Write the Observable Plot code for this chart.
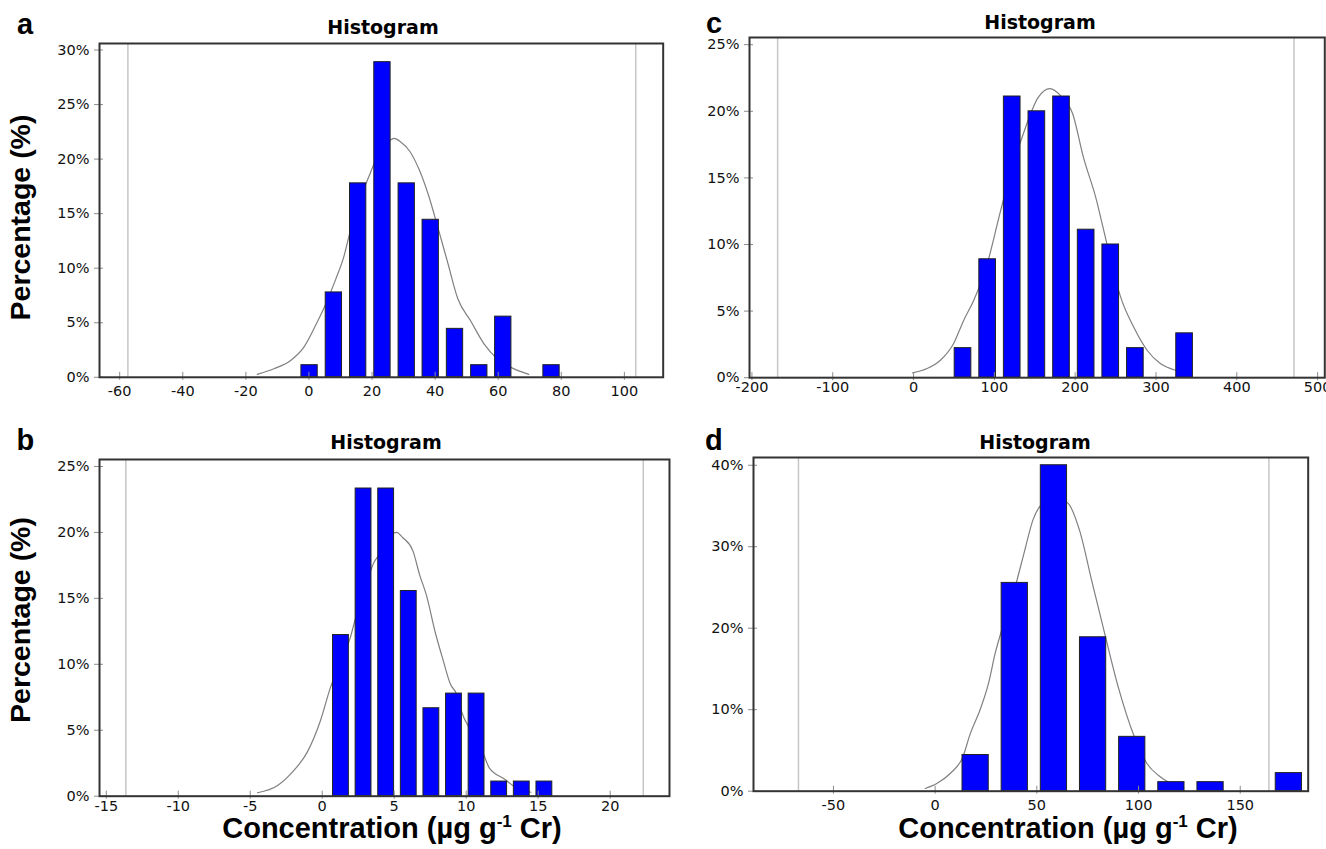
<!DOCTYPE html>
<html>
<head>
<meta charset="utf-8">
<script src="https://cdn.jsdelivr.net/npm/d3@7"></script>
<script src="https://cdn.jsdelivr.net/npm/@observablehq/plot@0.6"></script>
<style>
  html, body { margin: 0; padding: 0; background: #fff; }
  #page { position: relative; width: 1326px; height: 849px; overflow: hidden; background: #fff; }
  .panel { position: absolute; }
  #overlay { position: absolute; left: 0; top: 0; pointer-events: none; }
</style>
</head>
<body>
<div id="page"></div>
<script>
// ---------- data ----------
// Panel a
const aCenters = [0.2, 7.9, 15.6, 23.3, 31.0, 38.6, 46.3, 54.0, 61.6, 76.9];
const aPercent = [1.11, 7.78, 17.78, 28.89, 17.78, 14.44, 4.44, 1.11, 5.56, 1.11];
const aCurve = [[-16.4,0.26],[-11.1,0.78],[-5.8,1.54],[-1.6,2.76],[2.6,5.05],[5.3,6.7],[8.5,9.0],[11,11.0],[13.2,13.5],[16,16.2],[19,18.4],[21,19.8],[24,21.2],[27,21.9],[29,21.6],[32,20.7],[35,19.0],[38,16.6],[41,13.6],[44,10.5],[47.2,7.2],[51.2,5.2],[55.5,3.07],[59.7,1.7],[63.9,0.93],[69.7,0.26]];
const aRefLines = [-57.4, 103.6];
const aXTicks = [-60, -40, -20, 0, 20, 40, 60, 80, 100];
const aYTicks = [0, 5, 10, 15, 20, 25, 30];

// Panel b
const bCenters = [1.30, 2.87, 4.44, 6.01, 7.58, 9.15, 10.72, 12.29, 13.86, 15.43];
const bPercent = [12.22, 23.33, 23.33, 15.56, 6.67, 7.78, 7.78, 1.11, 1.11, 1.11];
const bCurve = [[-4.5,0.26],[-3.1,0.81],[-1.97,1.95],[-1.04,3.34],[-0.12,5.74],[0.58,8.27],[1.3,10.2],[1.94,12.0],[2.33,13.55],[3.0,15.8],[3.58,17.7],[3.88,18.2],[4.5,19.5],[5.15,20.0],[5.6,19.6],[6.3,18.6],[6.76,16.8],[7.22,15.3],[7.88,12.3],[8.4,10.3],[8.9,8.5],[9.35,7.7],[9.65,6.5],[10.4,4.8],[11.2,3.2],[11.6,2.15],[12.7,1.27],[13.3,0.76],[14.5,0.3]];
const bRefLines = [-13.64, 22.3];
const bXTicks = [-15, -10, -5, 0, 5, 10, 15, 20];
const bYTicks = [0, 5, 10, 15, 20, 25];

// Panel c
const cCenters = [61.2, 91.7, 122.1, 152.6, 183.1, 213.6, 244.0, 274.5, 335.4];
const cPercent = [2.22, 8.89, 21.11, 20.0, 21.11, 11.11, 10.0, 2.22, 3.33];
const cCurve = [[-1.1,0.36],[16.7,0.69],[33.2,1.31],[49.6,2.57],[62,4.3],[74.4,5.8],[90,8.3],[108,12.6],[122,15.8],[133.5,17.9],[154.5,21.06],[168.7,21.7],[183,21.1],[197,19.8],[210,16.6],[226.5,13.3],[234.4,11.3],[245,8.6],[256,6.1],[272.4,3.8],[289,2.06],[305.4,1.06],[324,0.56]];
const cRefLines = [-168.2, 470.8];
const cXTicks = [-200, -100, 0, 100, 200, 300, 400, 500];
const cYTicks = [0, 5, 10, 15, 20, 25];

// Panel d
const dCenters = [19.9, 39.15, 58.4, 77.65, 96.9, 116.15, 135.4, 173.9];
const dPercent = [4.44, 25.56, 40.0, 18.89, 6.67, 1.11, 1.11, 2.22];
const dCurve = [[-4.9,0.33],[0.8,0.94],[7.4,2.17],[13.6,4.2],[17.2,7.0],[22.1,10.0],[26.2,13.2],[29.5,16.9],[34,20.8],[39.8,25.5],[44,29.5],[48.1,33.3],[53,35.3],[59,35.8],[65,35.4],[71,32],[77,25.8],[83.4,19.3],[90,12.8],[97.9,6.7],[104.1,3.4],[110,1.9],[114.5,1.15],[121,0.7]];
const dRefLines = [-67.2, 164.1];
const dXTicks = [-50, 0, 50, 100, 150];
const dYTicks = [0, 10, 20, 30, 40];

// ---------- layout ----------
const panels = [
  {centers: aCenters, percent: aPercent, curve: aCurve, refLines: aRefLines, xTicks: aXTicks, yTicks: aYTicks,
   L: 99, R: 662.7, T: 43, B: 376.8, xDomain: [-66.4, 112.3], yDomain: [0, 30.6], barWidth: 5.17, xPad: 8},
  {centers: bCenters, percent: bPercent, curve: bCurve, refLines: bRefLines, xTicks: bXTicks, yTicks: bYTicks,
   L: 99, R: 669, T: 459, B: 795.7, xDomain: [-15.47, 24.12], yDomain: [0, 25.53], barWidth: 1.1, xPad: 5},
  {centers: cCenters, percent: cPercent, curve: cCurve, refLines: cRefLines, xTicks: cXTicks, yTicks: cYTicks,
   L: 749.2, R: 1324.5, T: 37.3, B: 377.5, xDomain: [-203, 508.9], yDomain: [0, 25.54], barWidth: 20.6, xPad: 4},
  {centers: dCenters, percent: dPercent, curve: dCurve, refLines: dRefLines, xTicks: dXTicks, yTicks: dYTicks,
   L: 753.3, R: 1308, T: 457.3, B: 791, xDomain: [-89.3, 183.4], yDomain: [0, 40.95], barWidth: 12.9, xPad: 9}
];

const page = document.getElementById("page");
const mL = 70, mR = 20, mT = 12, mB = 45;

for (const cfg of panels) {
  const W = cfg.R - cfg.L + mL + mR;
  const H = cfg.B - cfg.T + mT + mB;
  const bars = cfg.centers.map((c, i) => ({c, p: cfg.percent[i]}));
  const svg = Plot.plot({
    width: W, height: H,
    marginLeft: mL, marginRight: mR, marginTop: mT, marginBottom: mB,
    x: {domain: cfg.xDomain, label: null},
    y: {domain: cfg.yDomain, label: null},
    style: {fontFamily: "'DejaVu Sans', sans-serif", fontSize: "14.5px", color: "#111",
            background: "transparent", maxWidth: "none", overflow: "visible"},
    marks: [
      Plot.ruleX(cfg.refLines, {stroke: "#c6c6c6", strokeWidth: 1.5}),
      Plot.line(cfg.curve, {x: d => d[0], y: d => d[1], stroke: "#808080", strokeWidth: 1.2, curve: "monotone-x"}),
      Plot.rectY(bars, {x1: d => d.c - cfg.barWidth / 2, x2: d => d.c + cfg.barWidth / 2, y: "p",
                        fill: "#0000ff", stroke: "#222", strokeWidth: 1}),
      Plot.axisX(cfg.xTicks, {tickSize: 8, dy: -5, tickFormat: () => "", stroke: "#8c8c8c", label: null}),
      Plot.axisX(cfg.xTicks, {tickSize: 0, tickPadding: cfg.xPad, tickFormat: d => String(d), fontSize: 14.5, fill: "#111", label: null}),
      Plot.axisY(cfg.yTicks, {tickSize: 9, dx: 4, tickFormat: () => "", stroke: "#8c8c8c", label: null}),
      Plot.axisY(cfg.yTicks, {tickSize: 0, tickPadding: 10, tickFormat: d => d + "%", fontSize: 14.5, fill: "#111", label: null}),
      Plot.frame({stroke: "#333", strokeWidth: 2})
    ]
  });
  const div = document.createElement("div");
  div.className = "panel";
  div.style.left = (cfg.L - mL) + "px";
  div.style.top = (cfg.T - mT) + "px";
  div.appendChild(svg);
  page.appendChild(div);
}

// ---------- text overlay ----------
const overlay = d3.select(page).append("svg")
  .attr("id", "overlay").attr("width", 1326).attr("height", 849);

const letters = [["a", 17, 33.5], ["c", 706, 33.3], ["b", 16.5, 450], ["d", 705, 450]];
overlay.selectAll("text.letter").data(letters).join("text")
  .attr("class", "letter")
  .attr("x", d => d[1]).attr("y", d => d[2])
  .attr("font-family", "'Liberation Sans', Arial, sans-serif")
  .attr("font-weight", "bold").attr("font-size", 29).attr("fill", "#000")
  .text(d => d[0]);

const titles = [[383, 34], [386, 449], [1040, 28.5], [1035, 449]];
overlay.selectAll("text.title").data(titles).join("text")
  .attr("class", "title")
  .attr("x", d => d[0]).attr("y", d => d[1])
  .attr("text-anchor", "middle")
  .attr("font-family", "'DejaVu Sans', sans-serif")
  .attr("font-weight", "bold").attr("font-size", 19).attr("fill", "#000")
  .text("Histogram");

const yTitles = [[30, 217.5], [30, 620]];
overlay.selectAll("text.ytitle").data(yTitles).join("text")
  .attr("class", "ytitle")
  .attr("transform", d => `translate(${d[0]},${d[1]}) rotate(-90)`)
  .attr("text-anchor", "middle")
  .attr("font-family", "'Liberation Sans', Arial, sans-serif")
  .attr("font-weight", "bold").attr("font-size", 28.5).attr("fill", "#000")
  .text("Percentage (%)");

const xTitles = [[392, 838], [1068, 838]];
xTitles.forEach(([x, y]) => {
  const t = overlay.append("text")
    .attr("x", x).attr("y", y)
    .attr("text-anchor", "middle")
    .attr("font-family", "'Liberation Sans', Arial, sans-serif")
    .attr("font-weight", "bold").attr("font-size", 29).attr("fill", "#000");
  t.append("tspan").text("Concentration (µg g");
  t.append("tspan").attr("dy", -11).attr("font-size", 17).text("-1");
  t.append("tspan").attr("dy", 11).text(" Cr)");
});
</script>
</body>
</html>
